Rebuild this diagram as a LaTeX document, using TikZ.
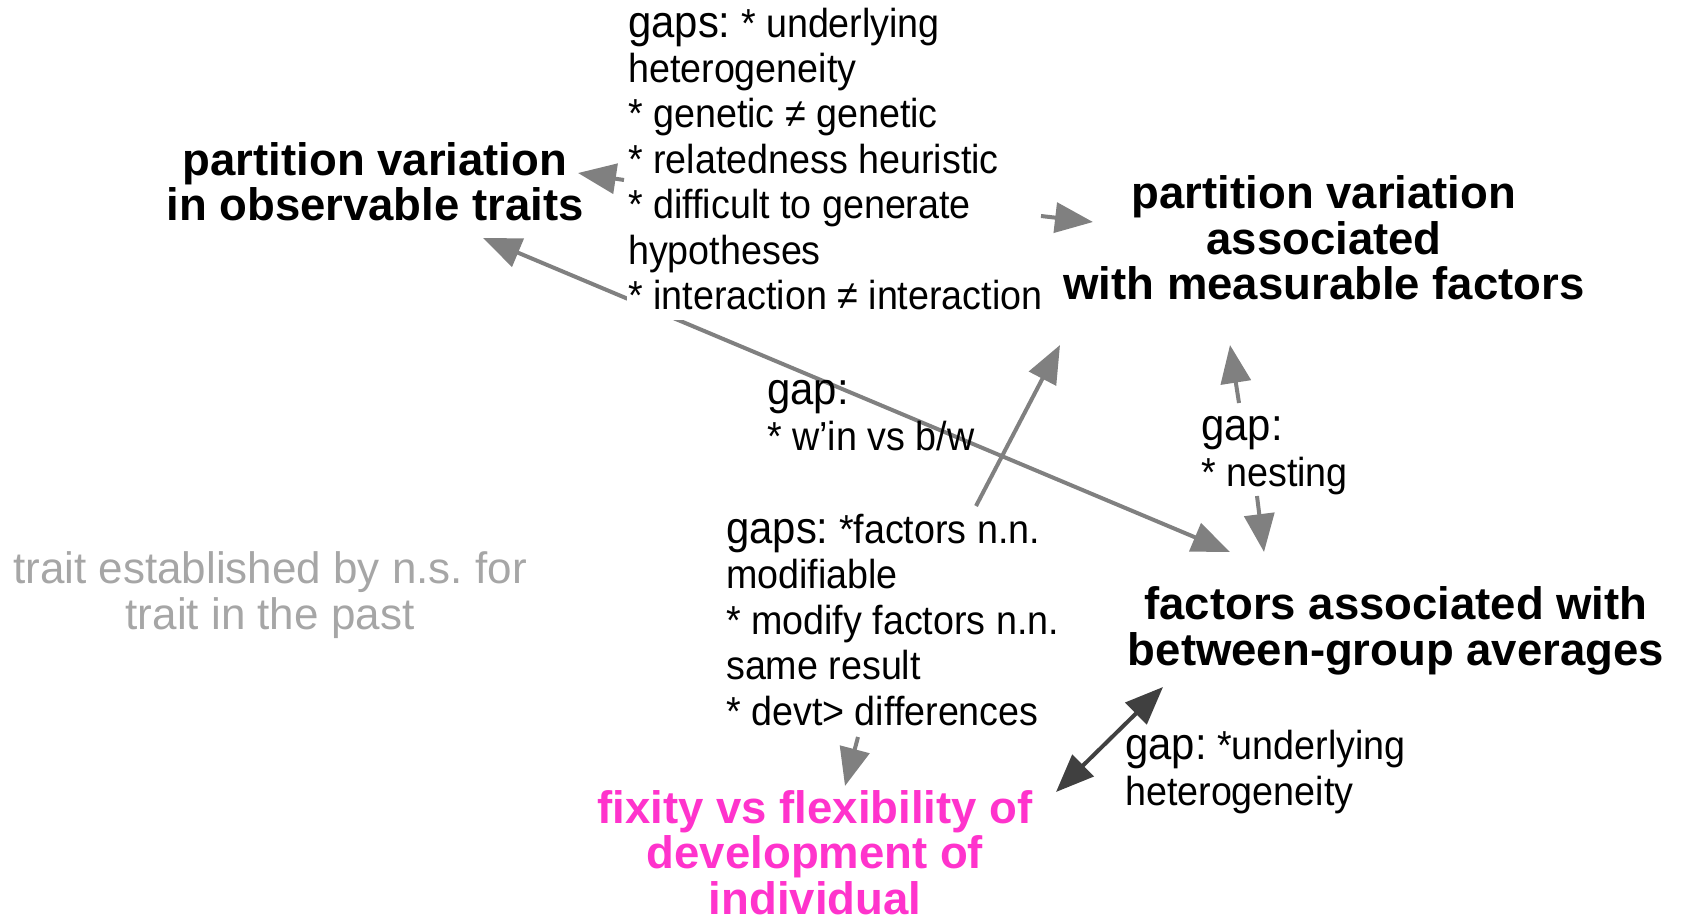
\documentclass[tikz,border=0pt]{standalone}
\usepackage{fontspec}
\setmainfont{Liberation Sans}
\newfontfamily\gapfont[FakeStretch=0.93]{Liberation Sans}
\usetikzlibrary{arrows.meta}
\definecolor{linkgray}{HTML}{808080}
\definecolor{darklink}{HTML}{404040}
\definecolor{pastgray}{HTML}{A6A6A6}
\definecolor{fixmagenta}{HTML}{FF33CC}
\newcommand\gaphead[1]{{\fontsize{45}{45.5}\selectfont #1}}
\frenchspacing
\begin{document}
\begin{tikzpicture}[
        x=1pt, y=-1pt,
        concept/.style={font=\fontsize{45.5}{45.5}\selectfont\bfseries, align=center, inner sep=0pt, anchor=base},
        gaptext/.style={font=\gapfont\fontsize{40.5}{45.5}\selectfont, align=left, inner sep=0pt, anchor=base west},
        pasttext/.style={font=\fontsize{44}{46}\selectfont, text=pastgray, align=center, inner sep=0pt, anchor=base},
        link/.style={draw=linkgray, line width=4pt, -{Triangle[length=38pt,width=30pt]}},
        twoway/.style={link, {Triangle[length=38pt,width=30pt]}-{Triangle[length=38pt,width=30pt]}}
      ]
      \useasboundingbox (0,0) rectangle (1682,917);
      \node[concept] (n1) at (375,221) {partition variation\\in observable traits};
      \node[concept] (n2) at (1324,300) {partition variation\\associated\\with measurable factors};
      \node[concept] (n3) at (1396,665) {factors associated with\\between-group averages};
      \node[concept, text=fixmagenta] (n4) at (815,914) {fixity vs flexibility of\\development of\\individual};
      \node[pasttext] (n5) at (270,629) {trait established by n.s. for\\trait in the past};
      \coordinate (n1a) at (578,173);
      \coordinate (n1b) at (483,238);
      \coordinate (n2a) at (1093,222);
      \coordinate (n2b) at (1060,345);
      \coordinate (n2c) at (1230,345);
      \coordinate (n3a) at (1230,552);
      \coordinate (n3b) at (1264,552);
      \coordinate (n3c) at (1163,687);
      \coordinate (n4a) at (845,786);
      \coordinate (n4b) at (1056,792);
      \draw[twoway] (n1b) -- (n3a);
      \node[gaptext, fill=white, inner xsep=1pt, inner ysep=10pt] (g1) at (627,310)
        {\gaphead{gaps:} * underlying\\heterogeneity\\* genetic ≠ genetic\\* relatedness heuristic\\* difficult to generate\\hypotheses\\* interaction ≠ interaction};
      \node[gaptext] (g2) at (767,450) {\gaphead{gap:}\\* w’in vs b/w};
      \node[gaptext] (g3) at (1201,486) {\gaphead{gap:}\\* nesting};
      \node[gaptext] (g4) at (726,725) {\gaphead{gaps:} *factors n.n.\\modifiable\\* modify factors n.n.\\same result\\* devt> differences};
      \node[gaptext] (g5) at (1125,805) {\gaphead{gap:} *underlying\\heterogeneity};
      \coordinate (g1a) at (624,180);
      \coordinate (g1b) at (1041,216);
      \coordinate (g3a) at (1239,403);
      \coordinate (g3b) at (1257,496);
      \coordinate (g4a) at (976,506);
      \coordinate (g4b) at (858,737);
      \draw[link] (g1a) -- (n1a);
      \draw[link] (g1b) -- (n2a);
      \draw[link] (g4a) -- (n2b);
      \draw[link] (g4b) -- (n4a);
      \draw[link] (g3a) -- (n2c);
      \draw[link] (g3b) -- (n3b);
      \draw[twoway, draw=darklink] (n4b) -- (n3c);
\end{tikzpicture}
\end{document}
